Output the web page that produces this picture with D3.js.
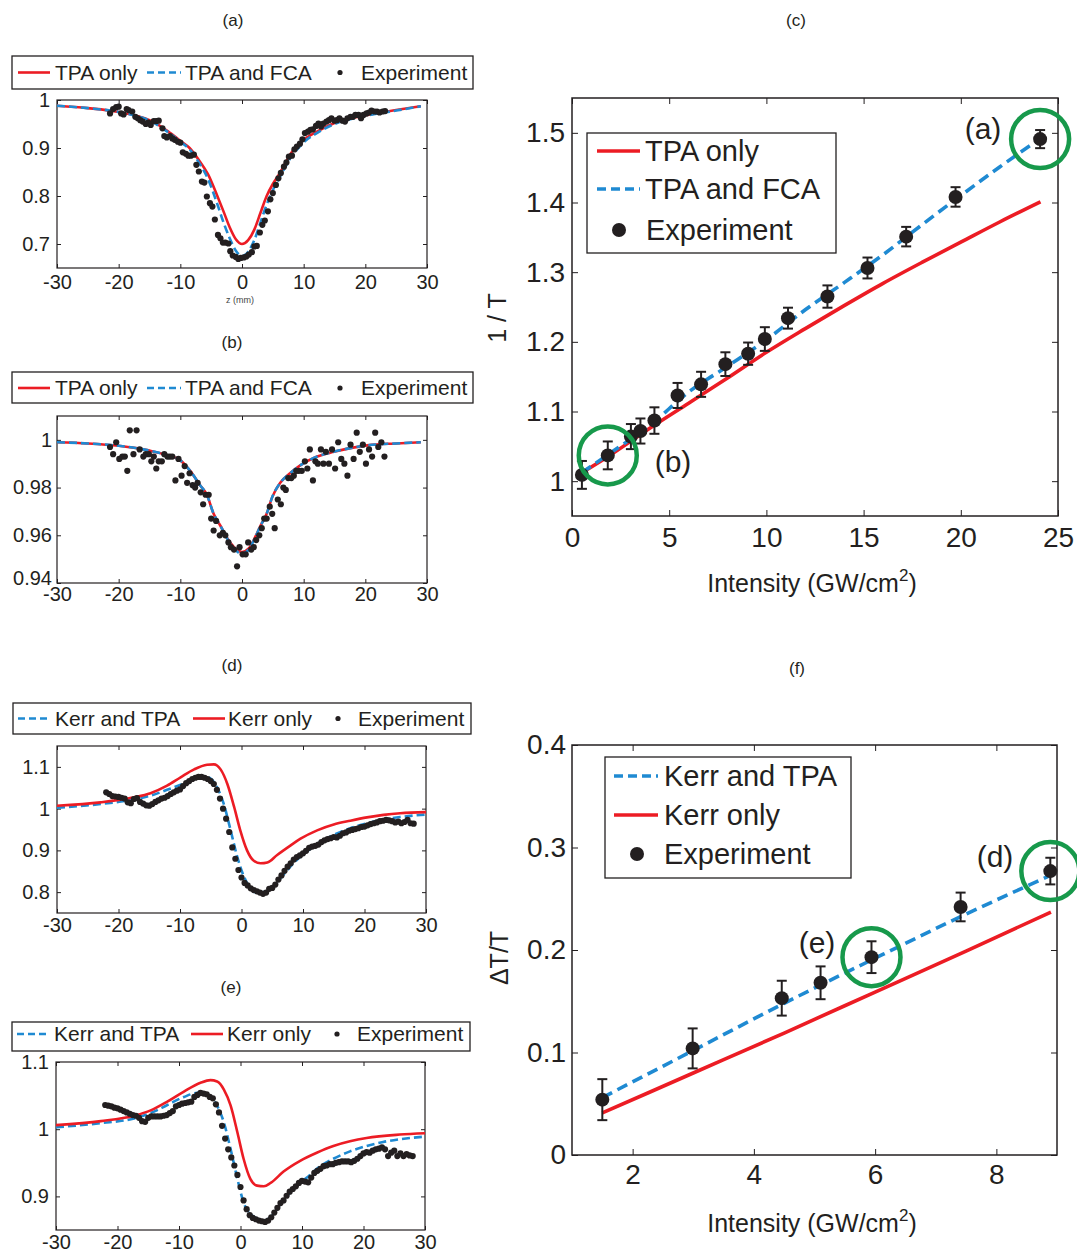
<!DOCTYPE html>
<html>
<head>
<meta charset="utf-8">
<script src="https://cdn.jsdelivr.net/npm/d3@7"></script>
<style>
body { margin: 0; background: #fff; }
text { font-family: "Liberation Sans", Arial, Helvetica, sans-serif; fill: #231f20; }
</style>
</head>
<body>
<div id="fig"></div>
<script>
//---------------- data ----------------

// z-scans share the same z axis
let zDomain = [-30, 30]
let zTicks = [-30, -20, -10, 0, 10, 20, 30]

// (a) closed aperture at high intensity: [z (mm), T]
let tpaA = [[-30,0.988],[-25,0.983],[-20,0.975],[-15,0.958],[-12,0.935],[-10,0.915],[-8.5,0.900],[-7,0.875],[-5.5,0.845],[-4,0.800],[-3,0.768],[-2,0.735],[-1,0.710],[0,0.700],[1,0.708],[2,0.730],[3,0.765],[4,0.800],[5,0.825],[6,0.845],[7,0.868],[8,0.890],[9,0.905],[10,0.917],[12,0.933],[15,0.952],[20,0.968],[25,0.979],[29,0.987]]
let fcaA = [[-30,0.988],[-25,0.983],[-20,0.975],[-15,0.957],[-12,0.933],[-10,0.913],[-8.5,0.897],[-7,0.870],[-5.5,0.835],[-4,0.783],[-3,0.745],[-2,0.712],[-1,0.686],[0,0.675],[1,0.684],[2,0.708],[3,0.745],[4,0.782],[5,0.812],[6,0.836],[7,0.860],[8,0.882],[9,0.898],[10,0.912],[12,0.930],[15,0.950],[20,0.967],[25,0.978],[29,0.987]]
let expA = [[-21.4,0.972],[-20.9,0.981],[-20.4,0.985],[-20.0,0.986],[-19.6,0.972],[-19.2,0.970],[-18.7,0.981],[-18.4,0.979],[-17.8,0.976],[-17.3,0.965],[-16.9,0.962],[-16.5,0.958],[-16.1,0.955],[-15.6,0.950],[-15.2,0.953],[-14.8,0.948],[-14.3,0.956],[-13.9,0.956],[-13.5,0.957],[-12.9,0.941],[-12.6,0.925],[-12.2,0.922],[-11.7,0.925],[-11.3,0.920],[-10.9,0.917],[-10.4,0.913],[-10.0,0.911],[-9.6,0.891],[-9.1,0.888],[-8.7,0.884],[-8.3,0.884],[-7.8,0.886],[-7.4,0.865],[-7.0,0.851],[-6.5,0.830],[-6.1,0.828],[-5.7,0.799],[-5.2,0.785],[-4.8,0.778],[-4.4,0.751],[-3.9,0.719],[-3.5,0.712],[-3.1,0.703],[-2.7,0.703],[-2.2,0.701],[-1.9,0.685],[-1.5,0.676],[-1.0,0.673],[-0.6,0.669],[-0.2,0.671],[0.3,0.672],[0.7,0.674],[1.1,0.678],[1.6,0.683],[2.0,0.695],[2.4,0.696],[2.9,0.724],[3.3,0.740],[3.7,0.749],[4.2,0.768],[4.6,0.793],[5.0,0.806],[5.5,0.823],[5.9,0.837],[6.3,0.848],[6.8,0.861],[7.2,0.870],[7.6,0.882],[8.1,0.884],[8.5,0.897],[8.9,0.903],[9.4,0.909],[9.8,0.918],[10.2,0.931],[10.7,0.934],[11.1,0.938],[11.5,0.939],[12.0,0.946],[12.4,0.951],[12.8,0.945],[13.2,0.951],[13.7,0.955],[14.1,0.958],[14.5,0.962],[15.0,0.957],[15.4,0.958],[15.8,0.962],[16.3,0.957],[16.7,0.955],[17.1,0.962],[17.6,0.965],[18.0,0.965],[18.4,0.969],[18.9,0.969],[19.3,0.962],[19.7,0.969],[20.2,0.972],[20.6,0.974],[21.0,0.978],[21.5,0.976],[21.9,0.976],[22.3,0.974],[22.8,0.976],[23.2,0.977]]
let yTicksA = [0.7, 0.8, 0.9, 1]

// (b) low intensity
let tpaB = [[-30,0.9990],[-25,0.9985],[-20,0.9975],[-15,0.9955],[-12,0.9935],[-10,0.9914],[-8.4,0.9870],[-6.8,0.9810],[-5.7,0.9770],[-4.6,0.9690],[-3.5,0.9640],[-2.2,0.9580],[-1.3,0.9550],[0,0.9530],[1.1,0.9545],[1.9,0.9580],[3,0.9640],[4,0.9690],[4.9,0.9760],[6.2,0.9820],[7.8,0.9860],[9.5,0.9894],[12.2,0.9930],[14.9,0.9950],[20.3,0.9977],[25,0.9985],[29,0.9990]]
let fcaB = [[-30,0.9990],[-25,0.9985],[-20,0.9975],[-15,0.9955],[-12,0.9935],[-10,0.9914],[-8.4,0.9870],[-6.8,0.9810],[-5.7,0.9770],[-4.6,0.9690],[-3.5,0.9640],[-2.2,0.9578],[-1.3,0.9545],[0,0.9522],[1.1,0.9540],[1.9,0.9578],[3,0.9640],[4,0.9690],[4.9,0.9760],[6.2,0.9820],[7.8,0.9860],[9.5,0.9894],[12.2,0.9930],[14.9,0.9950],[20.3,0.9977],[25,0.9985],[29,0.9990]]
let expB = [[-21.4,0.997],[-20.9,0.994],[-20.4,0.999],[-19.9,0.992],[-19.4,0.993],[-19.0,0.993],[-18.6,0.987],[-18.2,1.004],[-17.6,0.994],[-17.1,1.004],[-16.6,0.996],[-16.0,0.993],[-15.6,0.994],[-15.1,0.994],[-14.7,0.991],[-14.3,0.993],[-13.9,0.988],[-13.5,0.991],[-13.0,0.991],[-12.6,0.994],[-12.1,0.993],[-11.7,0.993],[-11.3,0.993],[-10.8,0.983],[-10.3,0.992],[-9.8,0.985],[-9.3,0.989],[-8.9,0.982],[-8.5,0.986],[-8.0,0.981],[-7.6,0.980],[-7.2,0.982],[-6.7,0.978],[-6.3,0.973],[-5.9,0.977],[-5.4,0.977],[-5.0,0.967],[-4.6,0.962],[-4.2,0.966],[-3.6,0.960],[-3.1,0.961],[-2.7,0.960],[-2.2,0.957],[-1.8,0.955],[-1.3,0.954],[-0.8,0.947],[-0.4,0.955],[0.1,0.952],[0.6,0.952],[1.0,0.957],[1.5,0.954],[1.9,0.955],[2.3,0.958],[2.8,0.960],[3.2,0.963],[3.6,0.967],[4.0,0.967],[4.5,0.972],[4.9,0.969],[5.3,0.963],[5.8,0.975],[6.3,0.973],[6.7,0.980],[7.1,0.979],[7.5,0.984],[8.0,0.984],[8.4,0.985],[8.8,0.987],[9.2,0.987],[9.7,0.987],[10.2,0.991],[10.6,0.988],[11.0,0.996],[11.5,0.983],[11.9,0.991],[12.3,0.990],[12.8,0.996],[13.2,0.990],[13.6,0.995],[14.1,0.990],[14.6,0.996],[15.1,0.988],[15.6,0.999],[16.1,0.992],[16.6,0.990],[17.1,0.985],[17.6,0.998],[18.1,0.992],[18.6,1.003],[19.1,0.995],[19.6,0.998],[20.1,0.990],[20.6,0.996],[21.1,0.993],[21.6,1.003],[22.1,0.997],[22.6,0.999],[23.1,0.993]]
let yTicksB = [0.94, 0.96, 0.98, 1]

// (d) Kerr z-scan, higher intensity
let kerrTpaD = [[-30,1.002],[-22.9,1.011],[-17.5,1.022],[-14.8,1.031],[-12.1,1.045],[-9.4,1.060],[-7.2,1.073],[-6.1,1.077],[-5.0,1.072],[-4.0,1.052],[-2.9,1.012],[-1.8,0.950],[-0.7,0.885],[0.4,0.837],[1.5,0.808],[2.5,0.799],[3.6,0.800],[5.3,0.815],[6.9,0.843],[8.5,0.870],[10.7,0.898],[12.8,0.920],[15,0.937],[17.7,0.953],[20.4,0.965],[23.1,0.974],[25.8,0.980],[30,0.986]]
let kerrD = [[-30,1.007],[-22.9,1.015],[-17.5,1.027],[-14.8,1.037],[-12.1,1.055],[-9.9,1.075],[-7.7,1.094],[-5.6,1.105],[-4.5,1.106],[-3.4,1.094],[-2.3,1.059],[-1.2,1.004],[-0.2,0.948],[0.9,0.900],[2.0,0.875],[3.1,0.869],[4.2,0.871],[5.8,0.889],[8,0.912],[9.6,0.928],[12.3,0.948],[15,0.962],[17.7,0.971],[20.4,0.979],[23.1,0.985],[25.8,0.989],[30,0.9915]]
let expD = [[-22,1.039],[-21.5,1.035],[-21,1.030],[-20.5,1.029],[-20,1.028],[-19.5,1.026],[-19,1.024],[-18.5,1.015],[-18,1.013],[-17.5,1.023],[-17,1.025],[-16.5,1.016],[-16,1.012],[-15.5,1.008],[-15,1.007],[-14.5,1.011],[-14,1.016],[-13.5,1.020],[-13,1.024],[-12.5,1.026],[-12,1.030],[-11.5,1.035],[-11,1.039],[-10.5,1.043],[-10,1.046],[-9.5,1.054],[-9,1.061],[-8.5,1.066],[-8,1.071],[-7.5,1.074],[-7,1.076],[-6.5,1.076],[-6,1.074],[-5.5,1.071],[-5,1.066],[-4.5,1.059],[-4,1.045],[-3.5,1.024],[-3,1.000],[-2.5,0.976],[-2,0.944],[-1.5,0.907],[-1,0.880],[-0.5,0.853],[0,0.835],[0.5,0.822],[1,0.816],[1.5,0.809],[2,0.805],[2.5,0.802],[3,0.799],[3.5,0.796],[4,0.799],[4.5,0.808],[5,0.810],[5.5,0.818],[6,0.830],[6.5,0.840],[7,0.851],[7.5,0.861],[8,0.869],[8.5,0.878],[9,0.884],[9.5,0.888],[10,0.893],[10.5,0.899],[11,0.906],[11.5,0.909],[12,0.911],[12.5,0.914],[13,0.920],[13.5,0.924],[14,0.927],[14.5,0.929],[15,0.932],[15.5,0.931],[16,0.935],[16.5,0.941],[17,0.943],[17.5,0.947],[18,0.949],[18.5,0.951],[19,0.953],[19.5,0.956],[20,0.957],[20.5,0.960],[21,0.963],[21.5,0.965],[22,0.967],[22.5,0.970],[23,0.971],[23.5,0.973],[24,0.972],[24.5,0.970],[25,0.967],[25.5,0.969],[26,0.965],[26.5,0.968],[27,0.973],[27.5,0.965],[28,0.964]]
let yTicksD = [0.8, 0.9, 1, 1.1]

// (e) Kerr z-scan, lower intensity
let kerrTpaE = [[-30,1.003],[-22.7,1.009],[-17.3,1.016],[-14.6,1.024],[-11.9,1.036],[-9.2,1.048],[-7.0,1.054],[-5.9,1.054],[-4.9,1.049],[-3.8,1.035],[-2.7,1.010],[-1.6,0.970],[-0.5,0.926],[0.5,0.891],[1.6,0.874],[2.7,0.867],[3.8,0.864],[4.9,0.869],[5.9,0.881],[7.6,0.901],[9.2,0.916],[10.8,0.928],[12.4,0.941],[15.1,0.956],[17.8,0.967],[20.5,0.975],[23.2,0.981],[25.9,0.985],[30,0.989]]
let kerrE = [[-30,1.006],[-22.7,1.012],[-17.3,1.020],[-14.6,1.028],[-11.9,1.041],[-9.2,1.056],[-6.5,1.069],[-4.9,1.073],[-3.8,1.071],[-2.7,1.059],[-1.6,1.035],[-0.5,0.995],[0.5,0.956],[1.6,0.926],[2.7,0.916],[3.8,0.915],[4.9,0.920],[7.0,0.937],[9.7,0.953],[12.4,0.965],[15.1,0.975],[17.8,0.982],[20.5,0.987],[25.9,0.992],[30,0.994]]
let expE = [[-22,1.036],[-21.5,1.035],[-21,1.034],[-20.5,1.032],[-20,1.031],[-19.5,1.029],[-19,1.027],[-18.5,1.025],[-18,1.023],[-17.5,1.021],[-17,1.020],[-16.5,1.017],[-16,1.012],[-15.5,1.011],[-15,1.017],[-14.5,1.019],[-14,1.019],[-13.5,1.019],[-13,1.019],[-12.5,1.020],[-12,1.021],[-11.5,1.024],[-11,1.027],[-10.5,1.034],[-10,1.036],[-9.5,1.038],[-9,1.039],[-8.5,1.040],[-8,1.041],[-7.5,1.048],[-7,1.051],[-6.5,1.054],[-6,1.053],[-5.5,1.052],[-5,1.048],[-4.5,1.046],[-4,1.037],[-3.5,1.025],[-3,1.005],[-2.5,0.986],[-2,0.970],[-1.5,0.958],[-1,0.946],[-0.5,0.932],[0,0.914],[0.5,0.894],[1,0.881],[1.5,0.872],[2,0.868],[2.5,0.866],[3,0.864],[3.5,0.863],[4,0.862],[4.5,0.864],[5,0.869],[5.5,0.876],[6,0.883],[6.5,0.890],[7,0.894],[7.5,0.901],[8,0.907],[8.5,0.911],[9,0.915],[9.5,0.920],[10,0.923],[10.5,0.922],[11,0.921],[11.5,0.928],[12,0.935],[12.5,0.938],[13,0.941],[13.5,0.945],[14,0.946],[14.5,0.948],[15,0.948],[15.5,0.950],[16,0.951],[16.5,0.952],[17,0.952],[17.5,0.952],[18,0.951],[18.5,0.953],[19,0.956],[19.5,0.960],[20,0.964],[20.5,0.966],[21,0.965],[21.5,0.968],[22,0.970],[22.5,0.971],[23,0.973],[23.5,0.970],[24,0.960],[24.5,0.965],[25,0.968],[25.5,0.960],[26,0.964],[26.5,0.960],[27,0.963],[27.5,0.961],[28,0.960]]
let yTicksE = [0.9, 1, 1.1]

// (c) 1/T vs intensity
let cIntensity = [0.51, 1.84, 3.03, 3.52, 4.24, 5.43, 6.64, 7.89, 9.06, 9.92, 11.11, 13.14, 15.2, 17.19, 19.73, 24.08]
let cInvT = [1.009, 1.037, 1.064, 1.072, 1.087, 1.123, 1.139, 1.168, 1.183, 1.204, 1.234, 1.265, 1.306, 1.351, 1.408, 1.491]
let cErr = [0.02, 0.02, 0.018, 0.018, 0.019, 0.018, 0.018, 0.017, 0.016, 0.017, 0.015, 0.016, 0.015, 0.014, 0.014, 0.013]
let cModelI = [0.5, 2, 4, 6, 8, 10, 12, 14, 16, 18, 20, 22, 24.1]
let cTpaOnly = [1.012, 1.038, 1.076, 1.112, 1.148, 1.185, 1.219, 1.252, 1.284, 1.314, 1.343, 1.372, 1.401]
let cTpaFca = [1.012, 1.041, 1.080, 1.128, 1.165, 1.203, 1.246, 1.285, 1.325, 1.368, 1.410, 1.451, 1.492]
let cXTicks = [0, 5, 10, 15, 20, 25]
let cYTicks = [1, 1.1, 1.2, 1.3, 1.4, 1.5]
let cMarked = [[1.84, 1.037, "(b)"], [24.08, 1.491, "(a)"]]

// (f) dT/T vs intensity
let fIntensity = [1.50, 2.99, 4.46, 5.10, 5.94, 7.41, 8.89]
let fDT = [0.054, 0.104, 0.153, 0.168, 0.193, 0.242, 0.277]
let fErr = [0.020, 0.0195, 0.017, 0.016, 0.0155, 0.014, 0.013]
let fModelI = [1.5, 3, 4.5, 6, 7.5, 8.9]
let fKerrTpa = [0.056, 0.102, 0.148, 0.192, 0.235, 0.273]
let fKerrOnly = [0.041, 0.080, 0.119, 0.159, 0.199, 0.237]
let fXTicks = [2, 4, 6, 8]
let fYTicks = [0, 0.1, 0.2, 0.3, 0.4]
let fMarked = [[5.94, 0.193, "(e)"], [8.89, 0.277, "(d)"]]

let tpaLegend = ["TPA only", "TPA and FCA", "Experiment"]
let kerrLegend = ["Kerr and TPA", "Kerr only", "Experiment"]

//---------------- drawing ----------------
let RED = "#ec1c24", BLUE = "#1f8ad2", GREEN = "#17994b", INK = "#231f20"
let fmt = d => String(d)

let svg = d3.select("#fig").append("svg")
  .attr("width", 1077)
  .attr("height", 1253)

function styleAxis(sel, size) {
  sel.attr("font-family", null).attr("font-size", null)
  sel.select(".domain").remove()
  sel.selectAll(".tick line").attr("stroke", INK)
  sel.selectAll(".tick text").style("font-size", size + "px").attr("fill", INK)
}

// frame with ticks pointing inward on all four sides (matlab style)
function boxAxes(g, x, y, p, xTicks, yTicks, tick, size) {
  g.append("g").attr("transform", `translate(0,${p.bottom})`)
    .call(d3.axisBottom(x).tickValues(xTicks).tickFormat(fmt).tickSize(-tick).tickPadding(p.xPad))
    .call(styleAxis, size)
  g.append("g").attr("transform", `translate(0,${p.top})`)
    .call(d3.axisTop(x).tickValues(xTicks).tickFormat(() => "").tickSize(-tick))
    .call(styleAxis, size)
  let yAx = g.append("g").attr("transform", `translate(${p.left},0)`)
    .call(d3.axisLeft(y).tickValues(yTicks).tickFormat(fmt).tickSize(-tick).tickPadding(p.yPad))
    .call(styleAxis, size)
  // lowest y label sits a little higher in the original (b) panel
  if (p.lowLift) {
    yAx.selectAll(".tick text").filter(d => d == yTicks[0])
      .attr("transform", `translate(0,${-p.lowLift})`)
  }
  g.append("g").attr("transform", `translate(${p.right},0)`)
    .call(d3.axisRight(y).tickValues(yTicks).tickFormat(() => "").tickSize(-tick))
    .call(styleAxis, size)
  g.append("rect")
    .attr("x", p.left).attr("y", p.top)
    .attr("width", p.right - p.left).attr("height", p.bottom - p.top)
    .attr("fill", "none").attr("stroke", INK).attr("stroke-width", p.frame)
}

function drawLegend(g, lg, labels, items, fontSize, lw, dotR) {
  g.append("rect")
    .attr("x", lg.x0).attr("y", lg.y0)
    .attr("width", lg.x1 - lg.x0).attr("height", lg.y1 - lg.y0)
    .attr("fill", "#fff").attr("stroke", INK).attr("stroke-width", 1.3)
  items.forEach((it, i) => {
    if (it.kind == "line") {
      g.append("line")
        .attr("x1", it.x1).attr("x2", it.x2).attr("y1", it.y).attr("y2", it.y)
        .attr("stroke", it.color).attr("stroke-width", lw)
        .attr("stroke-dasharray", it.dash || null)
    } else {
      g.append("circle").attr("cx", it.x1).attr("cy", it.y).attr("r", dotR).attr("fill", INK)
    }
    g.append("text")
      .attr("x", it.tx).attr("y", it.y).attr("dy", "0.35em")
      .style("font-size", fontSize + "px")
      .text(labels[i])
  })
}

function title(label, cx, cy) {
  svg.append("text").attr("x", cx).attr("y", cy).attr("dy", "0.35em")
    .attr("text-anchor", "middle").style("font-size", "17px").text(label)
}

//------------- small z-scan panels -------------
function drawSmall(p) {
  let g = svg.append("g")
  let x = d3.scaleLinear().domain(zDomain).range([p.left, p.right])
  let y = d3.scaleLinear().domain(p.yDomain).range([p.bottom, p.top])
  boxAxes(g, x, y, p, zTicks, p.yTicks, 4, 20)

  let line = d3.line().x(d => x(d[0])).y(d => y(d[1])).curve(d3.curveMonotoneX)
  p.series.forEach(s => {
    g.append("path").datum(s.data)
      .attr("d", line)
      .attr("fill", "none")
      .attr("stroke", s.color)
      .attr("stroke-width", 2.6)
      .attr("stroke-dasharray", s.dash || null)
  })
  g.append("g").selectAll("circle").data(p.exp).enter().append("circle")
    .attr("cx", d => x(d[0]))
    .attr("cy", d => y(d[1]))
    .attr("r", 3.1)
    .attr("fill", INK)

  drawLegend(g, p.legend, p.labels, p.items, 21, 2.6, 2.6)
}

let tpaItems = (yc) => [
  {kind: "line", color: RED, x1: 18, x2: 50, tx: 55, y: yc},
  {kind: "line", color: BLUE, dash: "7,4", x1: 147, x2: 181, tx: 185, y: yc},
  {kind: "dot", x1: 340, tx: 361, y: yc}
]

drawSmall({
  left: 57, right: 427, top: 100, bottom: 268, xPad: 7, yPad: 7, frame: 1.2,
  yDomain: [0.65, 1], yTicks: yTicksA, exp: expA,
  series: [{data: tpaA, color: RED}, {data: fcaA, color: BLUE, dash: "8,4"}],
  legend: {x0: 12, x1: 473, y0: 56, y1: 89}, labels: tpaLegend, items: tpaItems(72.5)
})
drawSmall({
  left: 57, right: 427, top: 416, bottom: 583, xPad: 4, yPad: 5, frame: 1.2, lowLift: 5,
  yDomain: [0.94, 1.01], yTicks: yTicksB, exp: expB,
  series: [{data: tpaB, color: RED}, {data: fcaB, color: BLUE, dash: "8,4"}],
  legend: {x0: 12, x1: 473, y0: 372, y1: 403}, labels: tpaLegend, items: tpaItems(388)
})
drawSmall({
  left: 57, right: 426, top: 746, bottom: 913, xPad: 5, yPad: 7, frame: 1.2,
  yDomain: [0.75, 1.15], yTicks: yTicksD, exp: expD,
  series: [{data: kerrTpaD, color: BLUE, dash: "8,4"}, {data: kerrD, color: RED}],
  legend: {x0: 13, x1: 471, y0: 703, y1: 734}, labels: kerrLegend,
  items: [
    {kind: "line", color: BLUE, dash: "7,4", x1: 18, x2: 51, tx: 55, y: 718.5},
    {kind: "line", color: RED, x1: 193, x2: 225, tx: 228, y: 718.5},
    {kind: "dot", x1: 338, tx: 358, y: 718.5}
  ]
})
drawSmall({
  left: 56, right: 425, top: 1062, bottom: 1230, xPad: 5, yPad: 7, frame: 1.2,
  yDomain: [0.85, 1.1], yTicks: yTicksE, exp: expE,
  series: [{data: kerrTpaE, color: BLUE, dash: "8,4"}, {data: kerrE, color: RED}],
  legend: {x0: 12, x1: 470, y0: 1022, y1: 1051}, labels: kerrLegend,
  items: [
    {kind: "line", color: BLUE, dash: "7,4", x1: 17, x2: 50, tx: 54, y: 1034},
    {kind: "line", color: RED, x1: 191, x2: 223, tx: 227, y: 1034},
    {kind: "dot", x1: 337, tx: 357, y: 1034}
  ]
})

svg.append("text").attr("x", 240).attr("y", 303).attr("text-anchor", "middle")
  .style("font-size", "9px").style("fill", "#444").text("z (mm)")

//------------- big intensity panels -------------
function drawBig(p) {
  let g = svg.append("g")
  let x = d3.scaleLinear().domain(p.xDomain).range([p.left, p.right])
  let y = d3.scaleLinear().domain(p.yDomain).range([p.bottom, p.top])
  boxAxes(g, x, y, p, p.xTicks, p.yTicks, 6, 28)

  let line = d3.line().x(d => x(d[0])).y(d => y(d[1])).curve(d3.curveMonotoneX)
  p.series.forEach(s => {
    g.append("path").datum(p.modelI.map((v, i) => [v, s.data[i]]))
      .attr("d", line)
      .attr("fill", "none")
      .attr("stroke", s.color)
      .attr("stroke-width", 3.6)
      .attr("stroke-dasharray", s.dash || null)
  })

  let pts = p.xs.map((v, i) => ({x: v, y: p.ys[i], e: p.errs[i]}))
  let eb = g.append("g").attr("stroke", INK).attr("stroke-width", 2)
  pts.forEach(d => {
    eb.append("line").attr("x1", x(d.x)).attr("x2", x(d.x)).attr("y1", y(d.y - d.e)).attr("y2", y(d.y + d.e))
    eb.append("line").attr("x1", x(d.x) - 5).attr("x2", x(d.x) + 5).attr("y1", y(d.y - d.e)).attr("y2", y(d.y - d.e))
    eb.append("line").attr("x1", x(d.x) - 5).attr("x2", x(d.x) + 5).attr("y1", y(d.y + d.e)).attr("y2", y(d.y + d.e))
  })
  g.append("g").selectAll("circle").data(pts).enter().append("circle")
    .attr("cx", d => x(d.x)).attr("cy", d => y(d.y)).attr("r", 7).attr("fill", INK)

  // highlighted points and their labels
  p.marked.forEach((m, i) => {
    g.append("circle")
      .attr("cx", x(m[0])).attr("cy", y(m[1])).attr("r", 29)
      .attr("fill", "none").attr("stroke", GREEN).attr("stroke-width", 4.5)
    g.append("text")
      .attr("x", p.notes[i][0]).attr("y", p.notes[i][1]).attr("dy", "0.35em")
      .attr("text-anchor", "middle").style("font-size", "30px").text(m[2])
  })

  drawLegend(g, p.legend, p.labels, p.items, 29, 3.6, 7)

  let xl = g.append("text").attr("x", 812).attr("y", p.xLabelY)
    .attr("text-anchor", "middle").style("font-size", "25px")
  xl.append("tspan").text("Intensity (GW/cm")
  xl.append("tspan").attr("dy", -11).style("font-size", "17px").text("2")
  xl.append("tspan").attr("dy", 11).text(")")

  g.append("text")
    .attr("transform", `translate(${p.yLabel[0]},${p.yLabel[1]}) rotate(-90)`)
    .attr("dy", "0.35em").attr("text-anchor", "middle")
    .style("font-size", "25px").text(p.yLabel[2])
}

drawBig({
  left: 572, right: 1058, top: 98, bottom: 516, xPad: 11, yPad: 7, frame: 1.5,
  xDomain: [0, 25], yDomain: [0.95, 1.55], xTicks: cXTicks, yTicks: cYTicks,
  xs: cIntensity, ys: cInvT, errs: cErr, modelI: cModelI,
  series: [{data: cTpaOnly, color: RED}, {data: cTpaFca, color: BLUE, dash: "11,6"}],
  marked: cMarked, notes: [[673, 461], [983, 128]],
  legend: {x0: 587, x1: 836, y0: 133, y1: 253}, labels: tpaLegend,
  items: [
    {kind: "line", color: RED, x1: 597, x2: 640, tx: 645, y: 151},
    {kind: "line", color: BLUE, dash: "9,5", x1: 597, x2: 640, tx: 645, y: 189},
    {kind: "dot", x1: 619, tx: 646, y: 230}
  ],
  xLabelY: 592, yLabel: [497, 318, "1 / T"]
})

drawBig({
  left: 572, right: 1057, top: 745, bottom: 1155, xPad: 9, yPad: 6, frame: 1.5,
  xDomain: [1, 9], yDomain: [0, 0.4], xTicks: fXTicks, yTicks: fYTicks,
  xs: fIntensity, ys: fDT, errs: fErr, modelI: fModelI,
  series: [{data: fKerrOnly, color: RED}, {data: fKerrTpa, color: BLUE, dash: "11,6"}],
  marked: fMarked, notes: [[817, 942], [995, 856]],
  legend: {x0: 605, x1: 851, y0: 757, y1: 878}, labels: kerrLegend,
  items: [
    {kind: "line", color: BLUE, dash: "9,5", x1: 614, x2: 658, tx: 664, y: 776},
    {kind: "line", color: RED, x1: 614, x2: 658, tx: 664, y: 815},
    {kind: "dot", x1: 637, tx: 664, y: 854}
  ],
  xLabelY: 1232, yLabel: [499, 958, "\u0394T/T"]
})

title("(a)", 233, 20)
title("(b)", 232, 342)
title("(c)", 796, 20)
title("(d)", 232, 665)
title("(e)", 231, 987)
title("(f)", 797, 668)
</script>
</body>
</html>
